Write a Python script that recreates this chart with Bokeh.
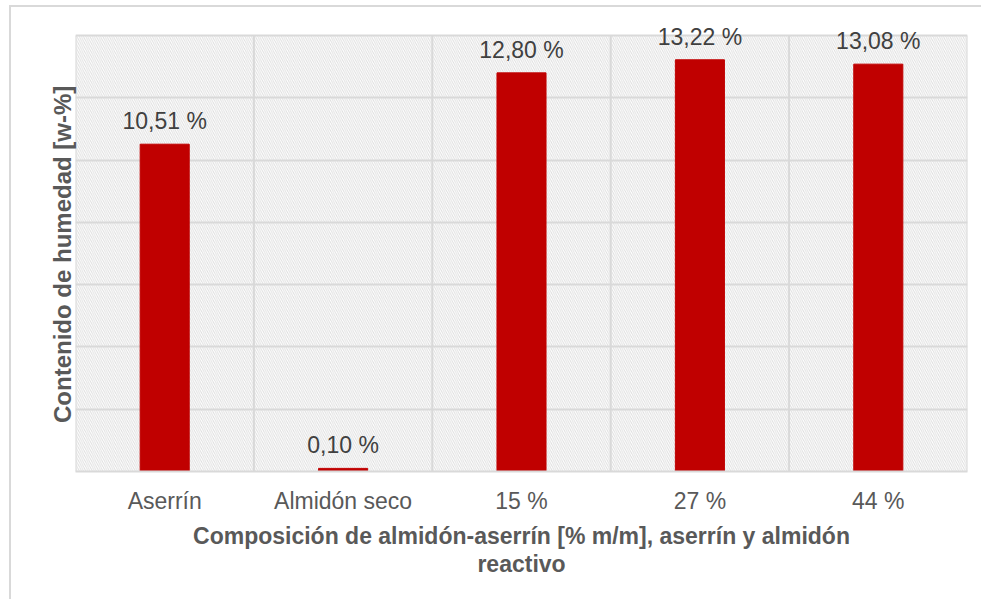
from bokeh.plotting import figure
from bokeh.models import (ColumnDataSource, LabelSet, BoxAnnotation, FixedTicker,
                          Range1d)
from bokeh.core.properties import value
from bokeh.embed import file_html
from bokeh.resources import INLINE

categories = ["Aserrín", "Almidón seco", "15 %", "27 %", "44 %"]
values = [10.51, 0.10, 12.80, 13.22, 13.08]
value_labels = ["10,51 %", "0,10 %", "12,80 %", "13,22 %", "13,08 %"]
y_ticks = [0, 2, 4, 6, 8, 10, 12, 14]
y_title = "Contenido de humedad [w-%]"
x_title = "Composición de almidón-aserrín [% m/m], aserrín y almidón\nreactivo"

FONT = "Liberation Sans"
GRID = "#d9d9d9"
TXT = "#595959"

YMAX = y_ticks[-1]
# extra headroom above the plot area so the value labels are not clipped
Y_TOP = YMAX + 25 / 31.14

xs = [i + 0.5 for i in range(len(categories))]
bounds = list(range(len(categories) + 1))
src = ColumnDataSource(dict(x=xs, top=values, lab=value_labels))

p = figure(width=972, height=594, output_backend="svg", toolbar_location=None,
           x_range=Range1d(0, len(categories)), y_range=Range1d(0, Y_TOP),
           min_border_left=64, min_border_right=16, min_border_top=3,
           min_border_bottom=130)
p.styles = {"margin-left": "9px", "margin-top": "5px",
            "border-top": "2px solid #d9d9d9", "border-left": "2px solid #d9d9d9"}
p.background_fill_color = "white"
p.border_fill_color = "white"
p.outline_line_color = None

# hatched plot-area background
hatch = BoxAnnotation(bottom=0, top=YMAX, fill_color=None, fill_alpha=0,
                      line_color=None, hatch_pattern="\\", hatch_color="#dddddd",
                      hatch_scale=4.3, hatch_weight=0.9, level="image")
p.add_layout(hatch)

# vertical category separators (plot-area grid)
p.segment(x0=bounds, y0=[0] * len(bounds), x1=bounds, y1=[YMAX] * len(bounds),
          line_color=GRID, line_width=2)

p.vbar(x="x", top="top", width=0.275, bottom=0, source=src,
       fill_color="#c00000", line_color="#c00000")

labels = LabelSet(x="x", y="top", text="lab", source=src, text_align="center",
                  text_baseline="alphabetic", y_offset=15,
                  text_font_size="23px", text_color="#404040",
                  text_font=value(FONT))
p.add_layout(labels)

# grids
p.ygrid.ticker = FixedTicker(ticks=y_ticks)
p.ygrid.grid_line_color = GRID
p.ygrid.grid_line_width = 2
p.xgrid.grid_line_color = None

# x axis
p.xaxis.ticker = FixedTicker(ticks=xs)
p.xaxis.major_label_overrides = {x: c for x, c in zip(xs, categories)}
p.xaxis.major_tick_line_color = None
p.xaxis.minor_tick_line_color = None
p.xaxis.axis_line_color = GRID
p.xaxis.axis_line_width = 2
p.xaxis.major_label_text_font = FONT
p.xaxis.major_label_text_font_size = "23px"
p.xaxis.major_label_text_color = TXT
p.xaxis.major_label_standoff = 10
p.xaxis.axis_label = x_title
p.xaxis.axis_label_text_font = FONT
p.xaxis.axis_label_text_font_size = "23px"
p.xaxis.axis_label_text_font_style = "bold"
p.xaxis.axis_label_text_color = TXT
p.xaxis.axis_label_text_line_height = 1.1
p.xaxis.axis_label_standoff = 6

# y axis (title only); trailing no-break spaces keep the title centred on
# the 0..YMAX plot area rather than on the frame including the headroom
p.yaxis.ticker = FixedTicker(ticks=y_ticks)
p.yaxis.major_label_text_font_size = "0px"
p.yaxis.major_label_standoff = 0
p.yaxis.major_tick_line_color = None
p.yaxis.minor_tick_line_color = None
p.yaxis.major_tick_out = 0
p.yaxis.major_tick_in = 0
p.yaxis.axis_line_color = None
p.yaxis.axis_label = y_title + "\u00a0" * 4
p.yaxis.axis_label_text_font = FONT
p.yaxis.axis_label_text_font_size = "24px"
p.yaxis.axis_label_text_font_style = "bold"
p.yaxis.axis_label_text_color = TXT
p.yaxis.axis_label_standoff = 0

open("out.html", "w").write(file_html(p, INLINE))
